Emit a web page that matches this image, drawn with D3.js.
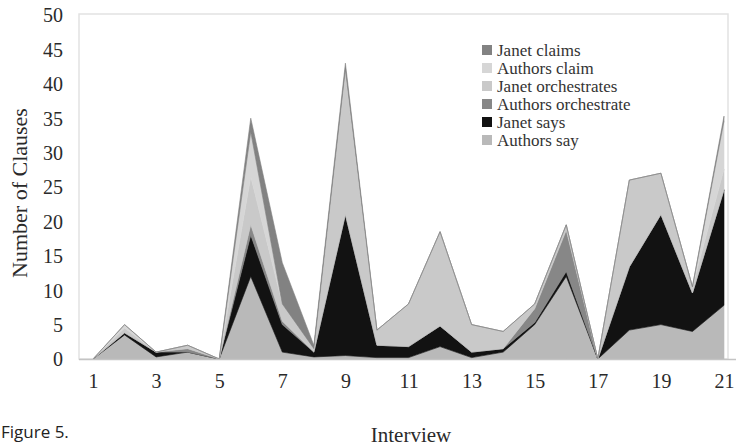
<!DOCTYPE html>
<html>
<head>
<meta charset="utf-8">
<script src="https://cdn.jsdelivr.net/npm/d3@7/dist/d3.min.js"></script>
<style>
  html, body { margin: 0; padding: 0; background: #fff; overflow: hidden; }
  svg { display: block; }
</style>
</head>
<body>
<svg id="chart" width="740" height="447"></svg>
<script>
// Interviews 1..21
const interviews = d3.range(1, 22);

// Clause counts per interview, one array per category
const authorsSay         = [0, 3.5, 0.3, 1,   0, 12,  1,   0.3, 0.5,  0.2, 0.2, 1.8,  0.2, 1,   5,   12,  0, 4.2,  5,  4,   7.8];
const janetSays          = [0, 0.3, 0.7, 0,   0, 6,   4,   0.7, 20.5, 1.8, 1.6, 3,    0.8, 0.5, 0.3, 0.7, 0, 9.2,  16, 5.6, 16.8];
const authorsOrchestrate = [0, 0,   0,   0.5, 0, 1.5, 0.5, 0,   0,    0,   0,   0,    0,   0,   2,   6,   0, 0,    0,  0,   0];
const janetOrchestrates  = [0, 0.7, 0,   0.5, 0, 7,   2.5, 0.5, 20.5, 2.2, 6.2, 13.7, 4,   2.5, 0.7, 0.8, 0, 12.6, 6,  0.9, 3];
const authorsClaim       = [0, 0.5, 0,   0,   0, 6.5, 0,   0,   0.5,  0,   0,   0,    0,   0,   0,   0,   0, 0,    0,  0,   7];
const janetClaims        = [0, 0,   0,   0,   0, 2,   6,   0.5, 1,    0,   0,   0,    0,   0,   0,   0,   0, 0,    0,  0,   0.7];

const xTicks = [1, 3, 5, 7, 9, 11, 13, 15, 17, 19, 21];
const yTicks = [0, 5, 10, 15, 20, 25, 30, 35, 40, 45, 50];

// Stack order, bottom to top
const series = [
  { key: "Authors say",         values: authorsSay,         color: "#b9b9b9" },
  { key: "Janet says",          values: janetSays,          color: "#121212" },
  { key: "Authors orchestrate", values: authorsOrchestrate, color: "#878787" },
  { key: "Janet orchestrates",  values: janetOrchestrates,  color: "#c9c9c9" },
  { key: "Authors claim",       values: authorsClaim,       color: "#d6d6d6" },
  { key: "Janet claims",        values: janetClaims,        color: "#828282" }
];

const rows = interviews.map((n, i) => {
  const r = { interview: n };
  series.forEach(s => { r[s.key] = s.values[i]; });
  return r;
});

const svg = d3.select("#chart");
const frame = { left: 79, top: 14, right: 728, bottom: 359 };

const x = d3.scaleLinear().domain([1, 21]).range([93, 724]);
const y = d3.scaleLinear().domain([0, 50]).range([359, 15]);

// Plot frame
svg.append("rect")
  .attr("x", frame.left).attr("y", frame.top)
  .attr("width", frame.right - frame.left).attr("height", frame.bottom - frame.top)
  .attr("fill", "#fff").attr("stroke", "#e2e2e2").attr("stroke-width", 1.5);

const stack = d3.stack().keys(series.map(s => s.key));
const layers = stack(rows);

const area = d3.area()
  .x(d => x(d.data.interview))
  .y0(d => y(d[0]))
  .y1(d => y(d[1]));

svg.append("g").selectAll("path")
  .data(layers)
  .join("path")
  .attr("d", area)
  .attr("fill", (d, i) => series[i].color)
  .attr("stroke", (d, i) => series[i].color)
  .attr("stroke-width", 0.6);

// Baseline
svg.append("line")
  .attr("x1", frame.left).attr("x2", 736)
  .attr("y1", y(0) + 0.5).attr("y2", y(0) + 0.5)
  .attr("stroke", "#c4c4c4").attr("stroke-width", 1.5);

const serif = "'Liberation Serif', 'DejaVu Serif', serif";

// Y axis labels
const yAxis = d3.axisLeft(y).tickValues(yTicks).tickSize(0).tickPadding(0);
const gy = svg.append("g").attr("transform", "translate(63,0)").call(yAxis);
gy.select(".domain").remove();
gy.selectAll("text")
  .attr("font-family", serif).attr("font-size", 20)
  .attr("fill", "#2a2a2a").attr("dy", "0.34em");

// X axis labels
const xAxis = d3.axisBottom(x).tickValues(xTicks).tickSize(0).tickPadding(0).tickFormat(d3.format("d"));
const gx = svg.append("g").attr("transform", "translate(0,374)").call(xAxis);
gx.select(".domain").remove();
gx.selectAll("text")
  .attr("font-family", serif).attr("font-size", 20)
  .attr("fill", "#2a2a2a").attr("dy", "0.71em");

// Axis titles
svg.append("text")
  .attr("transform", "translate(27,193) rotate(-90)")
  .attr("text-anchor", "middle")
  .attr("font-family", serif).attr("font-size", 22)
  .attr("fill", "#2a2a2a")
  .text("Number of Clauses");

svg.append("text")
  .attr("x", 411).attr("y", 442)
  .attr("text-anchor", "middle")
  .attr("font-family", serif).attr("font-size", 21)
  .attr("fill", "#2a2a2a")
  .text("Interview");

svg.append("text")
  .attr("x", 1).attr("y", 438)
  .attr("font-family", "'Open Sans', 'Noto Sans', sans-serif").attr("font-size", 17)
  .attr("fill", "#222")
  .text("Figure 5.");

// Legend, top entry first
const legendItems = series.slice().reverse();
const legend = svg.append("g").attr("transform", "translate(482,45)");
const li = legend.selectAll("g").data(legendItems).join("g")
  .attr("transform", (d, i) => `translate(0,${i * 18})`);
li.append("rect")
  .attr("width", 10).attr("height", 10)
  .attr("fill", d => d.color);
li.append("text")
  .attr("x", 15).attr("y", 5).attr("dy", "0.35em")
  .attr("font-family", serif).attr("font-size", 17)
  .attr("fill", "#333")
  .text(d => d.key);
</script>
</body>
</html>
